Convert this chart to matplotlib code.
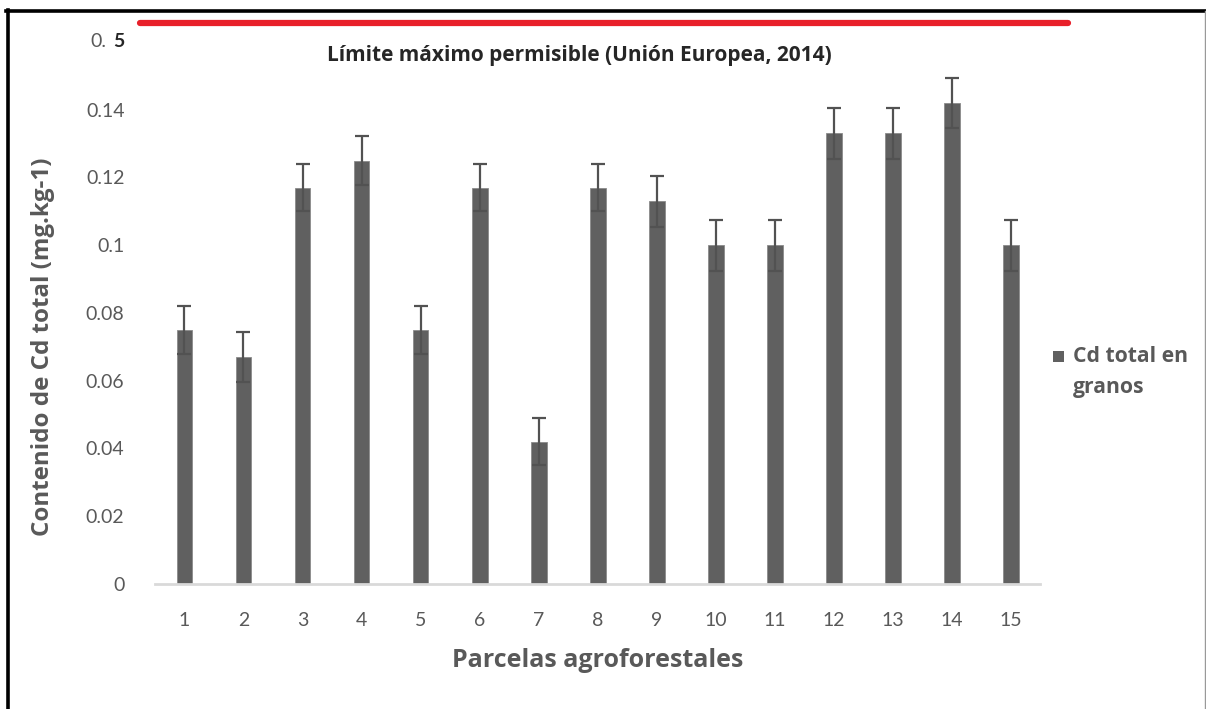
import matplotlib
matplotlib.use("Agg")
import matplotlib.pyplot as plt
from matplotlib.lines import Line2D
from matplotlib.patches import Rectangle
import numpy as np

plt.rcParams['font.family'] = ['Lato', 'DejaVu Sans']

# Cd total content in cacao grains per agroforestry plot
parcelas = [str(i) for i in range(1, 16)]
cd_total = [0.075, 0.067, 0.117, 0.125, 0.075, 0.117, 0.042, 0.117,
            0.113, 0.100, 0.100, 0.133, 0.133, 0.142, 0.100]
cd_error = [0.007, 0.0075, 0.007, 0.0072, 0.007, 0.007, 0.007, 0.007,
            0.0075, 0.0075, 0.0075, 0.0075, 0.0075, 0.0075, 0.0075]

y_ticks = [0, 0.02, 0.04, 0.06, 0.08, 0.1, 0.12, 0.14, 0.16]
y_tick_labels = ['0', '0.02', '0.04', '0.06', '0.08', '0.1', '0.12', '0.14', '']

# permissible limit line drawn just above the plot area
limite = 0.1655
limite_texto = "Límite máximo permisible (Unión Europea, 2014)"
serie = ['Cd total en', 'granos']

gris = '#595959'
negro = '#262626'
bold_font = ['Open Sans', 'DejaVu Sans']

fig = plt.figure(figsize=(12.06, 7.09), dpi=100)
ax = fig.add_axes([0.1285, 0.1763, 0.734, 0.7645])

x = np.arange(len(parcelas))
ax.bar(x, cd_total, width=0.27, color='#606060', edgecolor='#8a8a8a',
       linewidth=0.6, zorder=2)
ax.errorbar(x, cd_total, yerr=cd_error, fmt='none', ecolor='#525252',
            elinewidth=1.6, capsize=5, capthick=1.6, zorder=3)

ax.set_xlim(-0.5, len(parcelas) - 0.5)
ax.set_ylim(0, 0.16)
ax.set_xticks(x)
ax.set_xticklabels(parcelas)
ax.set_yticks(y_ticks)
ax.set_yticklabels(y_tick_labels)
ax.tick_params(axis='both', length=0, colors=gris, labelsize=14)
ax.tick_params(axis='x', pad=20)
ax.tick_params(axis='y', pad=22)

# top tick label, with its last digit in bold
ax.text(-1.33, 0.16, '0.', fontsize=14, color=gris, ha='right', va='center')
ax.text(-1.21, 0.16, '5', fontsize=14, fontweight='bold', color=negro,
        ha='left', va='center')

for side in ['top', 'right', 'left']:
    ax.spines[side].set_visible(False)
ax.spines['bottom'].set_color('#d9d9d9')
ax.spines['bottom'].set_linewidth(2)

ax.set_xlabel('Parcelas agroforestales', fontsize=18, fontweight='bold',
              color=gris, family=bold_font, labelpad=14)
ax.set_ylabel('Contenido de Cd total (mg.kg-1)', fontsize=17.4,
              fontweight='bold', color=gris, family=bold_font)
ax.yaxis.set_label_coords(-0.113, 0.437)

# red line for the limit
ax.plot([-0.75, 14.97], [limite, limite], color='#e8202a', linewidth=4.5,
        solid_capstyle='round', clip_on=False, zorder=4)
ax.text(6.7, 0.156, limite_texto, fontsize=15, fontweight='bold',
        color=negro, ha='center', va='center', family=bold_font)

# legend: grey square next to a two-line label
fig.add_artist(Rectangle((1053 / 1206, 1 - 362 / 709), 11 / 1206, 11 / 709,
                         facecolor='#606060', edgecolor='none'))
fig.text(1073 / 1206, 1 - 356 / 709, serie[0], fontsize=15.2,
         fontweight='bold', color=gris, family=bold_font, va='center')
fig.text(1073 / 1206, 1 - 388 / 709, serie[1], fontsize=15.2,
         fontweight='bold', color=gris, family=bold_font, va='center')

# outer frame
fig.add_artist(Line2D([0.0063, 0.0063], [0, 0.986], color='black', linewidth=2.6))
fig.add_artist(Line2D([0.0052, 1.0], [0.985, 0.985], color='black', linewidth=2.6))
fig.add_artist(Line2D([0.9995, 0.9995], [0, 0.985], color='#999999', linewidth=1))

fig.savefig('out.png', dpi=100)
